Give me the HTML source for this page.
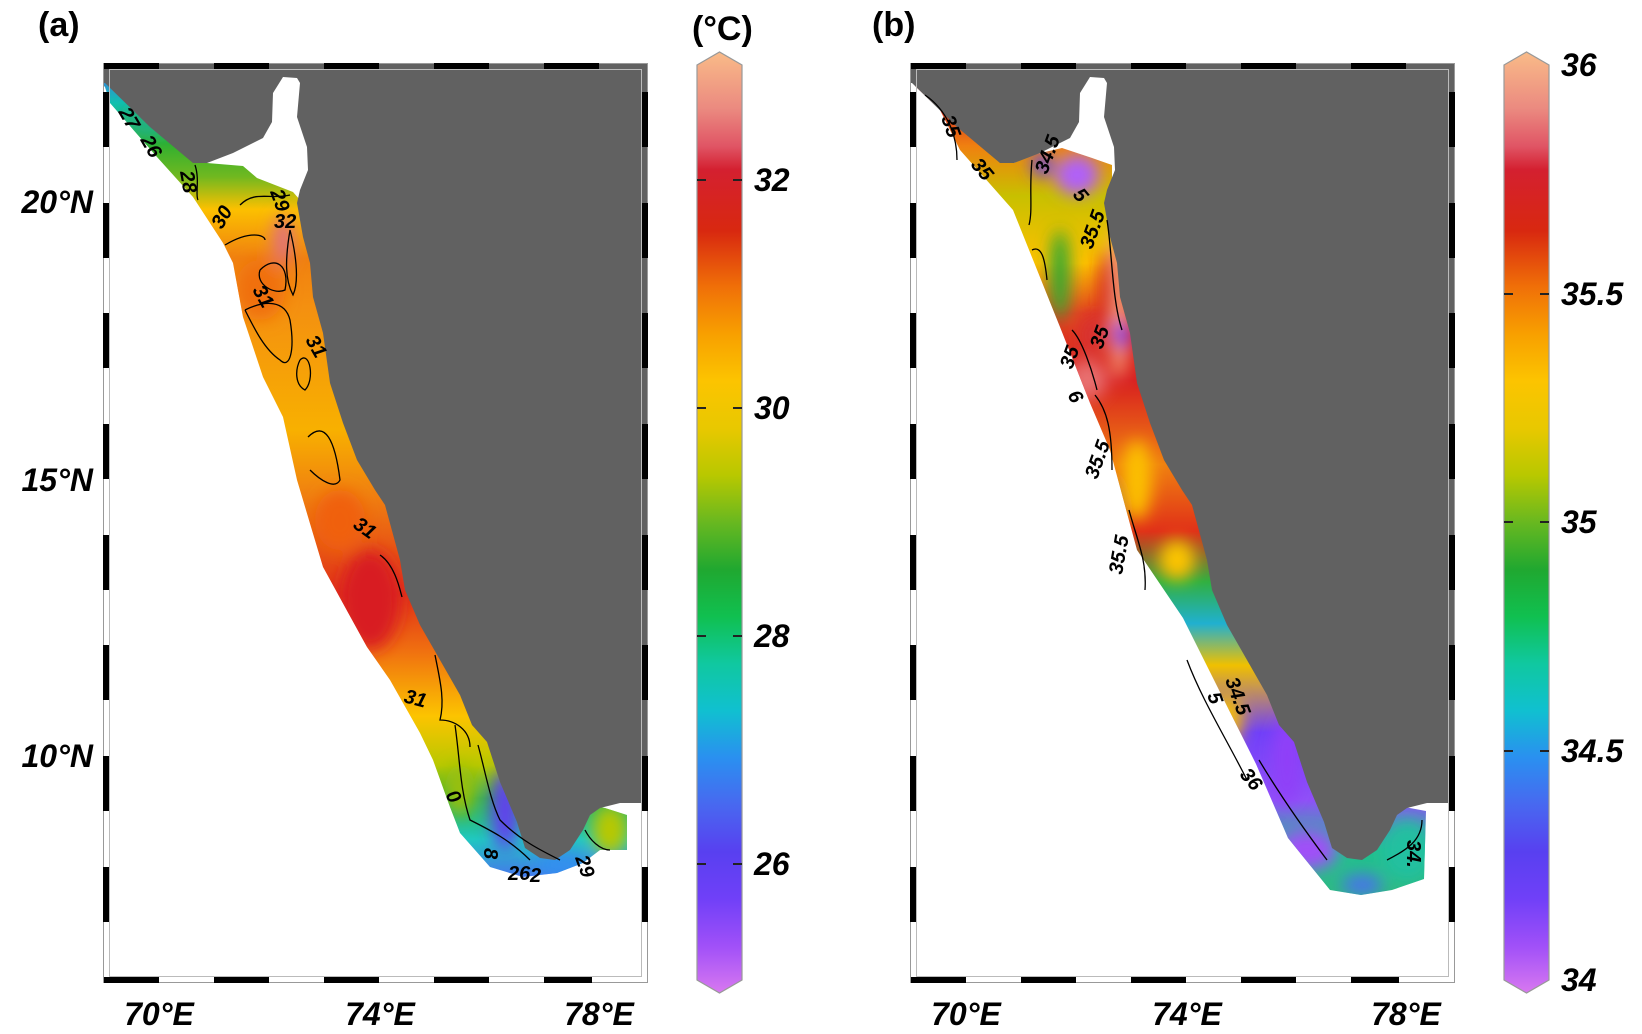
<!DOCTYPE html>
<html><head><meta charset="utf-8"><style>
html,body{margin:0;padding:0;background:#fff;}
svg{display:block;}
text{font-family:"Liberation Sans",Arial,sans-serif;font-weight:bold;}
</style></head><body>
<svg width="1642" height="1034" viewBox="0 0 1642 1034" xmlns="http://www.w3.org/2000/svg">
<defs>
<linearGradient id="cmap" x1="0" y1="0" x2="0" y2="1">
<stop offset="0" stop-color="#f9bb88"/><stop offset="0.06" stop-color="#eb8a80"/>
<stop offset="0.1" stop-color="#e05565"/><stop offset="0.125" stop-color="#d42030"/>
<stop offset="0.19" stop-color="#d82810"/><stop offset="0.25" stop-color="#f07008"/>
<stop offset="0.3" stop-color="#f8a000"/><stop offset="0.35" stop-color="#fcc400"/>
<stop offset="0.4" stop-color="#e8c800"/><stop offset="0.45" stop-color="#b8c800"/>
<stop offset="0.5" stop-color="#68b820"/><stop offset="0.55" stop-color="#20a830"/>
<stop offset="0.6" stop-color="#10c050"/><stop offset="0.65" stop-color="#10c8a0"/>
<stop offset="0.7" stop-color="#10c0d0"/><stop offset="0.75" stop-color="#2a90f0"/>
<stop offset="0.8" stop-color="#4868f0"/><stop offset="0.85" stop-color="#5840f0"/>
<stop offset="0.9" stop-color="#7040f8"/><stop offset="0.95" stop-color="#a050f8"/>
<stop offset="1" stop-color="#d878f0"/>
</linearGradient>
<linearGradient id="ga" gradientUnits="userSpaceOnUse" x1="0" y1="62" x2="0" y2="880">
<stop offset="0" stop-color="#5060f0"/><stop offset="0.05" stop-color="#10c0b0"/>
<stop offset="0.1" stop-color="#30b030"/><stop offset="0.14" stop-color="#70b820"/>
<stop offset="0.18" stop-color="#fcc000"/><stop offset="0.24" stop-color="#f08010"/>
<stop offset="0.3" stop-color="#f49010"/><stop offset="0.45" stop-color="#f8b000"/>
<stop offset="0.53" stop-color="#f08010"/><stop offset="0.65" stop-color="#e03018"/>
<stop offset="0.72" stop-color="#f07010"/><stop offset="0.8" stop-color="#fcc400"/>
<stop offset="0.86" stop-color="#b8c800"/><stop offset="0.9" stop-color="#30b040"/>
<stop offset="0.95" stop-color="#20c8c0"/><stop offset="1" stop-color="#4870f0"/>
</linearGradient>
<linearGradient id="gb" gradientUnits="userSpaceOnUse" x1="0" y1="62" x2="0" y2="900">
<stop offset="0" stop-color="#f9bb88"/><stop offset="0.05" stop-color="#d82820"/>
<stop offset="0.1" stop-color="#f08010"/><stop offset="0.16" stop-color="#c8c000"/>
<stop offset="0.24" stop-color="#fcc000"/><stop offset="0.3" stop-color="#e04020"/>
<stop offset="0.38" stop-color="#d82020"/><stop offset="0.48" stop-color="#f08010"/>
<stop offset="0.56" stop-color="#e03018"/><stop offset="0.62" stop-color="#30b040"/>
<stop offset="0.67" stop-color="#20b0d0"/><stop offset="0.72" stop-color="#f0c000"/>
<stop offset="0.8" stop-color="#7040f8"/><stop offset="0.88" stop-color="#9050f8"/>
<stop offset="0.94" stop-color="#20c090"/><stop offset="1" stop-color="#30b880"/>
</linearGradient>
<clipPath id="ca"><polygon points="103,85 105,87 110,103 157,157 193,197 223,243 233,263 243,317 263,377 283,417 297,480 323,567 367,647 390,680 420,733 433,760 450,807 460,833 490,867 523,877 557,873 583,863 600,850 627,850 627,815 605,808 560,800 500,700 420,560 350,380 310,230 300,200 293,192 257,178 243,166 207,163 150,120 103,75"/></clipPath>
<clipPath id="cb"><polygon points="103,63 170,63 130,80 108,86 133,110 153,150 206,210 253,327 283,403 303,450 330,550 376,618 397,660 428,722 449,764 481,838 523,890 554,895 585,890 617,879 619,811 560,800 500,700 420,560 350,380 315,230 305,200 305,165 285,158 255,148 225,155 207,163 150,120 103,75"/></clipPath>
<filter id="bl" x="-50%" y="-50%" width="200%" height="200%"><feGaussianBlur stdDeviation="8"/></filter>
<g id="land"><polygon fill="#616161" points="103,63 648,63 648,803 620,803 600,808 590,815 583,830 570,850 555,860 540,858 525,848 517,822 500,782 487,742 472,725 460,695 440,660 420,625 405,590 400,560 385,505 375,490 357,460 343,423 330,383 323,333 313,297 310,263 303,237 297,203 300,190 308,170 307,147 297,117 300,83 297,78 283,77 273,93 272,122 263,138 233,153 207,163 193,163 150,127 105,83 103,83"/></g>
</defs>

<!-- Panel A -->
<g clip-path="url(#ca)">
<rect x="100" y="60" width="550" height="830" fill="url(#ga)"/>
<g filter="url(#bl)">
<ellipse cx="283" cy="240" rx="10" ry="25" fill="#e07080"/>
<ellipse cx="260" cy="290" rx="25" ry="30" fill="#f07010"/>
<ellipse cx="370" cy="600" rx="30" ry="50" fill="#d81c20"/>
<ellipse cx="340" cy="520" rx="25" ry="30" fill="#f06010"/>
<ellipse cx="610" cy="830" rx="18" ry="25" fill="#b8c800"/>
<ellipse cx="505" cy="810" rx="14" ry="40" fill="#6040f0"/>
<ellipse cx="460" cy="790" rx="15" ry="25" fill="#9ac010"/>
<ellipse cx="560" cy="865" rx="25" ry="12" fill="#3090f0"/>
<ellipse cx="150" cy="120" rx="25" ry="15" fill="#20b080"/>
</g>
</g>
<use href="#land"/>
<g fill="none" stroke="#000" stroke-width="1.3">
<path d="M195,165 C200,180 195,195 198,200"/>
<path d="M240,205 C255,190 270,200 290,195"/>
<path d="M225,245 C250,230 265,235 265,240"/>
<path d="M290,230 C295,250 300,280 293,295 C285,280 285,260 290,230"/>
<path d="M260,270 C275,255 290,265 285,290 C275,295 255,285 260,270"/>
<path d="M245,310 C265,300 285,300 290,320 C295,350 290,370 280,360 C265,350 255,330 245,310"/>
<path d="M300,360 C310,350 315,380 305,390 C295,385 295,370 300,360"/>
<path d="M308,437 C325,420 335,440 340,480 C335,490 320,480 310,470"/>
<path d="M380,555 C395,565 400,590 402,597"/>
<path d="M435,655 C440,680 445,700 440,720 C455,720 470,730 470,747"/>
<path d="M455,725 C460,760 460,790 470,820 C490,830 510,840 530,860"/>
<path d="M478,745 C485,770 490,800 500,820 C520,840 540,850 560,860"/>
<path d="M585,830 C590,840 600,850 610,850"/>
</g>
<g font-style="italic" font-size="20" fill="#000">
<text x="118" y="112" transform="rotate(60 118 112)">27</text>
<text x="140" y="140" transform="rotate(60 140 140)">26</text>
<text x="180" y="172" transform="rotate(80 180 172)">28</text>
<text x="222" y="230" transform="rotate(-60 222 230)">30</text>
<text x="270" y="192" transform="rotate(70 270 192)">29</text>
<text x="274" y="228">32</text>
<text x="252" y="290" transform="rotate(60 252 290)">31</text>
<text x="305" y="340" transform="rotate(60 305 340)">31</text>
<text x="352" y="527" transform="rotate(35 352 527)">31</text>
<text x="403" y="702" transform="rotate(15 403 702)">31</text>
<text x="445" y="795" transform="rotate(60 445 795)">0</text>
<text x="484" y="848" transform="rotate(90 484 848)">8</text>
<text x="508" y="880">26</text><text x="530" y="882">2</text>
<text x="575" y="858" transform="rotate(70 575 858)">29</text>
</g>

<!-- Panel B -->
<g transform="translate(807,0)">
<g clip-path="url(#cb)">
<rect x="100" y="60" width="550" height="840" fill="url(#gb)"/>
<g filter="url(#bl)">
<ellipse cx="270" cy="175" rx="22" ry="20" fill="#b060f8"/>
<ellipse cx="235" cy="165" rx="10" ry="12" fill="#6040f0"/>
<ellipse cx="253" cy="275" rx="10" ry="45" fill="#30a830"/>
<ellipse cx="312" cy="300" rx="9" ry="80" fill="#f6a080"/>
<ellipse cx="300" cy="290" rx="8" ry="40" fill="#d82020"/>
<ellipse cx="315" cy="335" rx="8" ry="14" fill="#8040f8"/>
<ellipse cx="285" cy="335" rx="12" ry="20" fill="#d83030"/>
<ellipse cx="280" cy="380" rx="20" ry="20" fill="#e87070"/>
<ellipse cx="300" cy="520" rx="12" ry="40" fill="#40b040"/>
<ellipse cx="330" cy="480" rx="15" ry="40" fill="#fcc000"/>
<ellipse cx="370" cy="560" rx="18" ry="20" fill="#fcc400"/>
<ellipse cx="345" cy="640" rx="15" ry="25" fill="#20c0d0"/>
<ellipse cx="480" cy="760" rx="15" ry="45" fill="#9040f8"/>
<ellipse cx="420" cy="720" rx="15" ry="25" fill="#f8c000"/>
<ellipse cx="430" cy="790" rx="12" ry="20" fill="#f4b080"/>
<ellipse cx="500" cy="850" rx="30" ry="20" fill="#a050f8"/>
<ellipse cx="600" cy="850" rx="25" ry="30" fill="#20c0a0"/>
<ellipse cx="555" cy="885" rx="20" ry="10" fill="#4870f0"/>
</g>
</g>
<use href="#land"/>
<g fill="none" stroke="#000" stroke-width="1.3">
<path d="M118,95 C140,110 150,135 150,160"/>
<path d="M225,160 C222,190 226,210 222,225"/>
<path d="M225,250 C235,245 238,260 240,280"/>
<path d="M300,220 C305,250 305,300 315,330"/>
<path d="M265,330 C275,340 285,370 290,390"/>
<path d="M288,395 C300,410 305,430 305,470"/>
<path d="M322,510 C330,540 340,560 338,590"/>
<path d="M380,660 C395,700 420,740 440,780"/>
<path d="M452,760 C470,790 490,820 520,860"/>
<path d="M580,860 C600,850 615,840 615,820"/>
</g>
<g font-style="italic" font-size="20" fill="#000">
<text x="134" y="118" transform="rotate(70 134 118)">35</text>
<text x="163" y="165" transform="rotate(50 163 165)">35</text>
<text x="240" y="175" transform="rotate(-70 240 175)">34.5</text>
<text x="265" y="195" transform="rotate(50 265 195)">5</text>
<text x="285" y="250" transform="rotate(-70 285 250)">35.5</text>
<text x="295" y="350" transform="rotate(-70 295 350)">35</text>
<text x="265" y="370" transform="rotate(-70 265 370)">35</text>
<text x="260" y="395" transform="rotate(60 260 395)">6</text>
<text x="290" y="480" transform="rotate(-70 290 480)">35.5</text>
<text x="315" y="575" transform="rotate(-80 315 575)">35.5</text>
<text x="400" y="695" transform="rotate(70 400 695)">5</text>
<text x="418" y="680" transform="rotate(70 418 680)">34.5</text>
<text x="432" y="775" transform="rotate(50 432 775)">36</text>
<text x="600" y="840" transform="rotate(90 600 840)">34.</text>
</g>
</g>

<!-- Frames -->
<g id="frameA">
<rect x="103.5" y="63.5" width="544" height="919" fill="none" stroke="#999" stroke-width="1"/>
<rect x="109.5" y="69.5" width="532" height="907" fill="none" stroke="#bbb" stroke-width="1"/>
<g fill="#000">
<rect x="104" y="63" width="55" height="6"/><rect x="214" y="63" width="55" height="6"/><rect x="324" y="63" width="55" height="6"/><rect x="434" y="63" width="55" height="6"/><rect x="544" y="63" width="55" height="6"/>
<rect x="104" y="977" width="55" height="6"/><rect x="214" y="977" width="55" height="6"/><rect x="324" y="977" width="55" height="6"/><rect x="434" y="977" width="55" height="6"/><rect x="544" y="977" width="48" height="6"/>
<rect x="103" y="92" width="6" height="55"/><rect x="103" y="203" width="6" height="55"/><rect x="103" y="313" width="6" height="55"/><rect x="103" y="424" width="6" height="55"/><rect x="103" y="535" width="6" height="55"/><rect x="103" y="645" width="6" height="55"/><rect x="103" y="756" width="6" height="55"/><rect x="103" y="867" width="6" height="55"/>
<rect x="642" y="92" width="6" height="55"/><rect x="642" y="203" width="6" height="55"/><rect x="642" y="313" width="6" height="55"/><rect x="642" y="424" width="6" height="55"/><rect x="642" y="535" width="6" height="55"/><rect x="642" y="645" width="6" height="55"/><rect x="642" y="756" width="6" height="55"/><rect x="642" y="867" width="6" height="55"/>
</g>
</g>
<use href="#frameA" transform="translate(807,0)"/>

<!-- Colorbars -->
<g id="cbar">
<polygon points="697,65 719.5,52 742,65 742,980 719.5,993 697,980" fill="url(#cmap)" stroke="#999" stroke-width="1.2"/>
</g>
<use href="#cbar" transform="translate(807,0)"/>
<g stroke="#222" stroke-width="2">
<path d="M697,180h9M733,180h9M697,408h9M733,408h9M697,636h9M733,636h9M697,864h9M733,864h9"/>
<path d="M1504,294h9M1540,294h9M1504,522h9M1540,522h9M1504,751h9M1540,751h9"/>
</g>

<!-- Text -->
<g font-size="34" fill="#000">
<text x="38" y="36">(a)</text>
<text x="872" y="36">(b)</text>
<text x="692" y="40">(°C)</text>
</g>
<g font-size="32" font-style="italic" fill="#000">
<text x="93" y="213" text-anchor="end">20°N</text>
<text x="93" y="491" text-anchor="end">15°N</text>
<text x="93" y="767" text-anchor="end">10°N</text>
<text x="159" y="1025" text-anchor="middle">70°E</text>
<text x="380" y="1025" text-anchor="middle">74°E</text>
<text x="599" y="1025" text-anchor="middle">78°E</text>
<text x="966" y="1025" text-anchor="middle">70°E</text>
<text x="1187" y="1025" text-anchor="middle">74°E</text>
<text x="1406" y="1025" text-anchor="middle">78°E</text>
<text x="754" y="191">32</text>
<text x="754" y="419">30</text>
<text x="754" y="647">28</text>
<text x="754" y="875">26</text>
<text x="1561" y="76">36</text>
<text x="1561" y="305">35.5</text>
<text x="1561" y="533">35</text>
<text x="1561" y="762">34.5</text>
<text x="1561" y="991">34</text>
</g>
</svg>
</body></html>
